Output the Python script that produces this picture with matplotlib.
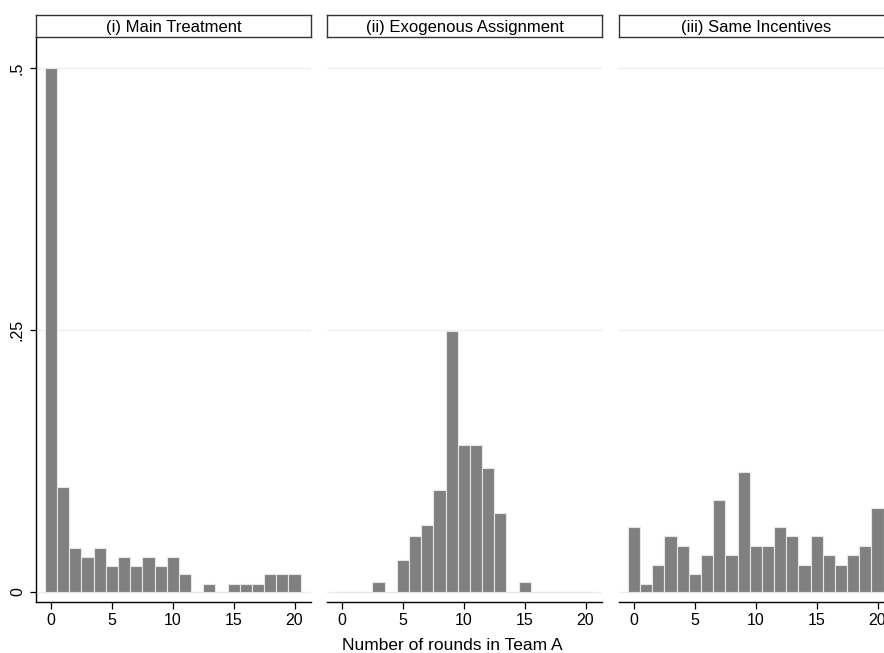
import numpy as np
import matplotlib
matplotlib.use("Agg")
import matplotlib.pyplot as plt

plt.rcParams["font.family"] = ["Liberation Sans", "DejaVu Sans"]

# bins: number of rounds in Team A
rounds = np.arange(0, 21)

main_treatment = [0.500, 0.100, 0.042, 0.033, 0.042, 0.025, 0.033, 0.025, 0.033, 0.025,
                  0.033, 0.017, 0.000, 0.008, 0.000, 0.008, 0.008, 0.008, 0.017, 0.017, 0.017]
exogenous = [0.000, 0.000, 0.000, 0.010, 0.000, 0.031, 0.053, 0.064, 0.097, 0.249,
             0.140, 0.140, 0.118, 0.075, 0.000, 0.010, 0.000, 0.000, 0.000, 0.000, 0.000]
same_incentives = [0.062, 0.008, 0.026, 0.053, 0.044, 0.017, 0.035, 0.088, 0.035, 0.115,
                   0.044, 0.044, 0.062, 0.053, 0.026, 0.053, 0.035, 0.026, 0.035, 0.044, 0.080]

titles = ["(i) Main Treatment", "(ii) Exogenous Assignment", "(iii) Same Incentives"]
series = [main_treatment, exogenous, same_incentives]
yticks = [0, 0.25, 0.5]
ytick_labels = ["0", ".25", ".5"]
xticks = [0, 5, 10, 15, 20]

W, H = 884, 653
fig = plt.figure(figsize=(W / 100, H / 100), dpi=100)

lefts = [36, 327, 619]
pw = 275
top, bottom = 37, 602
head_top = 15

for i in range(3):
    ax = fig.add_axes([lefts[i] / W, 1 - bottom / H, pw / W, (bottom - top) / H])
    ax.bar(rounds, series[i], width=1.0, color="#808080", edgecolor="#e6e6e6",
           linewidth=0.8, zorder=3)
    for y in yticks:
        ax.axhline(y, color="#eaf1f3", linewidth=1.0, zorder=1)
    ax.set_xlim(-1.23, 21.35)
    ax.set_ylim(-0.0095, 0.5296)
    ax.set_xticks(xticks)
    ax.set_xticklabels([str(x) for x in xticks], fontsize=11.5)
    ax.tick_params(axis="x", length=5, width=0.9, pad=3)
    for s in ["top", "right"]:
        ax.spines[s].set_visible(False)
    ax.spines["bottom"].set_linewidth(1.0)
    if i == 0:
        ax.set_yticks(yticks)
        ax.set_yticklabels(ytick_labels, fontsize=11.5, rotation=90, va="center")
        ax.tick_params(axis="y", length=4, width=0.9, pad=4)
        ax.spines["left"].set_linewidth(1.0)
    else:
        ax.spines["left"].set_visible(False)
        ax.set_yticks([])

    # header strip
    hx = fig.add_axes([lefts[i] / W, 1 - top / H, pw / W, (top - head_top) / H])
    hx.set_xticks([])
    hx.set_yticks([])
    for s in hx.spines.values():
        s.set_linewidth(1.0)
        s.set_color("#333333")
    hx.text(0.5, 0.45, titles[i], ha="center", va="center", fontsize=12,
            transform=hx.transAxes)

fig.text(452 / W, 1 - 646 / H, "Number of rounds in Team A", ha="center",
         va="center", fontsize=12.5)

fig.savefig("out.png", dpi=100)
